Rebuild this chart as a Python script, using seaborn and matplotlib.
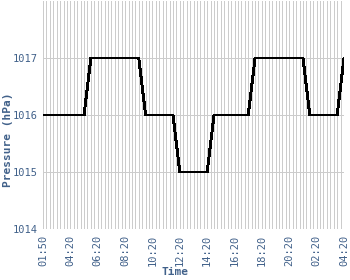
import matplotlib
matplotlib.use("Agg")
import matplotlib.pyplot as plt
import seaborn as sns
import pandas as pd
from matplotlib.ticker import MultipleLocator

tick_labels = ['01:50', '04:20', '06:20', '08:20', '10:20', '12:20',
               '14:20', '16:20', '18:20', '20:20', '02:20', '04:20']
pressure = [
    1016, 1016, 1016, 1016, 1016, 1016, 1016, 1016, 1016, 1016, 1016, 1016, 1016,
    1016.5,
    1017, 1017, 1017, 1017, 1017, 1017, 1017, 1017, 1017, 1017, 1017, 1017, 1017, 1017, 1017,
    1016.5,
    1016, 1016, 1016, 1016, 1016, 1016, 1016, 1016, 1016,
    1015.5,
    1015, 1015, 1015, 1015, 1015, 1015, 1015, 1015, 1015,
    1015.5,
    1016, 1016, 1016, 1016, 1016, 1016, 1016, 1016, 1016, 1016, 1016,
    1016.5,
    1017, 1017, 1017, 1017, 1017, 1017, 1017, 1017, 1017, 1017, 1017, 1017, 1017, 1017, 1017,
    1016.5,
    1016, 1016, 1016, 1016, 1016, 1016, 1016, 1016, 1016,
    1016.5,
    1017,
]

df = pd.DataFrame({"idx": range(len(pressure)), "pressure": pressure})

sns.set_style("white")
plt.rcParams['font.family'] = ['DejaVu Sans Mono', 'DejaVu Sans']

txt = '#41618a'
grid = '#cccccc'

fig = plt.figure(figsize=(3.5, 2.8), dpi=100)
ax = fig.add_axes([43/350, 1 - 229/280, 301/350, 228/280])

sns.lineplot(data=df, x="idx", y="pressure", ax=ax, color='black',
             linewidth=1.4, antialiased=False, zorder=3)

ax.set_xlim(0, len(pressure) - 1)
ax.set_ylim(1014, 1018)
ax.set_xticks(range(0, len(pressure), 8))
ax.set_xticklabels(tick_labels, rotation=90)
ax.xaxis.set_minor_locator(MultipleLocator(1))
ax.set_yticks([1014, 1015, 1016, 1017])
ax.set_yticklabels(['1014', '1015', '1016', '1017'])

ax.grid(True, which='both', axis='x', color=grid, linewidth=0.55,
        antialiased=False, zorder=0)
ax.grid(True, which='major', axis='y', color=grid, linewidth=0.55,
        antialiased=False, zorder=0)
ax.tick_params(axis='both', which='major', length=3, width=0.55, color=grid,
               labelsize=7.5, labelcolor=txt, pad=1)
ax.tick_params(axis='x', which='minor', length=0)
for s in ax.spines.values():
    s.set_visible(False)

ax.set_xlabel('')
ax.set_ylabel('')
fig.text(175/350, 1 - 272/280, 'Time', ha='center', va='center',
         fontsize=8, fontweight='bold', color=txt)
fig.text(8/350, 0.5, 'Pressure (hPa)', ha='center', va='center', rotation=90,
         fontsize=8, fontweight='bold', color=txt)

fig.savefig('out.png', dpi=100)
